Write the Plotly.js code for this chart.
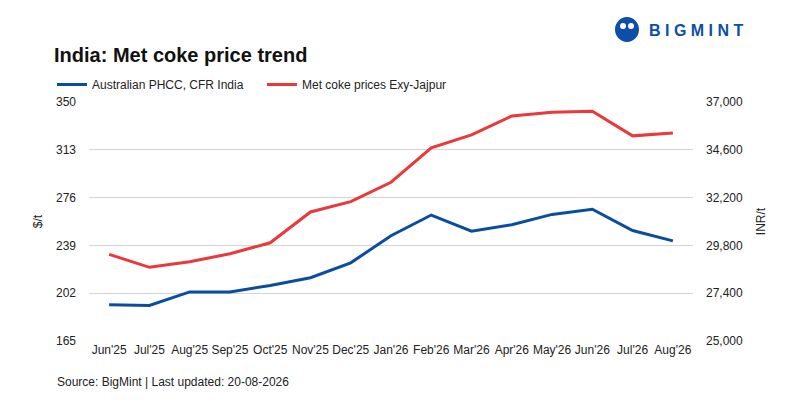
<!DOCTYPE html>
<html>
<head>
<meta charset="utf-8">
<script src="https://cdn.plot.ly/plotly-3.0.1.min.js"></script>
<style>
  html, body { margin: 0; padding: 0; background: #fff; }
  #chart { width: 800px; height: 400px; }
</style>
</head>
<body>
<div id="chart"></div>
<script>
// months on the x axis
const months = ["Jun'25", "Jul'25", "Aug'25", "Sep'25", "Oct'25", "Nov'25", "Dec'25",
  "Jan'26", "Feb'26", "Mar'26", "Apr'26", "May'26", "Jun'26", "Jul'26", "Aug'26"];

// Australian PHCC, CFR India ($/t, left axis)
const phcc_usd = [193, 192.5, 203, 203, 208, 214, 225.5, 246.5, 262.5, 250, 255, 263, 267, 250.5, 242.5];

// Met coke prices Exy-Jajpur (INR/t, right axis)
const jajpur_inr = [29350, 28700, 28980, 29380, 29930, 31480, 32000, 32970, 34700, 35350, 36300, 36490, 36540, 35300, 35440];

const leftTicks = [165, 202, 239, 276, 313, 350];
const rightTicks = [25000, 27400, 29800, 32200, 34600, 37000];

const FONT = "Liberation Sans Narrow, Liberation Sans, Arial, sans-serif";
const BLUE = "#0a4ca0";
const RED = "#e9393b";

// plot area in pixels, used to place the logo / source note
const PL = 89, PW = 604, PB = 341, PH = 239;
const px = (x) => (x - PL) / PW;
const py = (y) => (PB - y) / PH;

var trace1 = {
  x: months,
  y: phcc_usd,
  type: "scatter",
  mode: "lines",
  name: "Australian PHCC, CFR India",
  line: { color: BLUE, width: 3 },
  yaxis: "y",
};

var trace2 = {
  x: months,
  y: jajpur_inr,
  type: "scatter",
  mode: "lines",
  name: "Met coke prices Exy-Jajpur",
  line: { color: RED, width: 3 },
  yaxis: "y2",
};

var layout = {
  width: 800,
  height: 400,
  margin: { l: 89, r: 107, t: 102, b: 59 },
  paper_bgcolor: "#fff",
  plot_bgcolor: "#fff",
  font: { family: FONT, size: 12, color: "#222" },
  showlegend: true,
  title: {
    text: "India: Met coke price trend",
    font: { family: FONT, size: 20, color: "#111", weight: "bold" },
    xref: "container", yref: "container",
    x: 54 / 800, xanchor: "left",
    y: 1 - 55 / 400, yanchor: "middle",
  },
  legend: {
    orientation: "h",
    xref: "container", yref: "container",
    x: 52 / 800, xanchor: "left",
    y: 1 - 70 / 400, yanchor: "top",
    bgcolor: "rgba(0,0,0,0)",
    font: { family: FONT, size: 12, color: "#222" },
    itemwidth: 30,
    entrywidth: 165,
    entrywidthmode: "pixels",
    tracegroupgap: 0,
  },
  xaxis: {
    type: "category",
    range: [-0.5, 14.5],
    showgrid: false,
    zeroline: false,
    showline: false,
    ticks: "",
    tickangle: 0,
    tickfont: { family: FONT, size: 12, color: "#222" },
  },
  yaxis: {
    range: [165, 350],
    tickvals: leftTicks,
    gridcolor: "#d6d6d6",
    gridwidth: 1,
    zeroline: false,
    showline: false,
    ticks: "",
    ticklabelstandoff: 12,
    tickfont: { family: FONT, size: 12, color: "#222" },
    title: { text: "$/t", standoff: 10, font: { family: FONT, size: 12, color: "#222" } },
  },
  yaxis2: {
    overlaying: "y",
    side: "right",
    range: [25000, 37000],
    tickvals: rightTicks,
    tickformat: ",",
    showgrid: false,
    zeroline: false,
    showline: false,
    ticks: "",
    ticklabelstandoff: 12,
    tickfont: { family: FONT, size: 12, color: "#222" },
    title: { text: "INR/t", standoff: 14, font: { family: FONT, size: 12, color: "#222" } },
  },
  annotations: [
    {
      text: "Source: BigMint | Last updated: 20-08-2026",
      xref: "paper", yref: "paper",
      x: px(55), y: py(382),
      xanchor: "left", yanchor: "middle",
      showarrow: false,
      font: { family: FONT, size: 12, color: "#222" },
    },
    {
      text: "<b>B I G M I N T</b>",
      xref: "paper", yref: "paper",
      x: px(647), y: py(30),
      xanchor: "left", yanchor: "middle",
      showarrow: false,
      font: { family: "Liberation Sans, Arial, sans-serif", size: 16, color: "#0c4ea8" },
    },
  ],
  shapes: [
    // logo mark
    { type: "circle", xref: "paper", yref: "paper",
      x0: px(615), x1: px(639), y0: py(42), y1: py(17),
      fillcolor: "#0c4ea8", line: { width: 0 } },
    { type: "circle", xref: "paper", yref: "paper",
      x0: px(620), x1: px(626), y0: py(29), y1: py(23),
      fillcolor: "#fff", line: { width: 0 } },
    { type: "circle", xref: "paper", yref: "paper",
      x0: px(628), x1: px(634), y0: py(29), y1: py(23),
      fillcolor: "#fff", line: { width: 0 } },
  ],
};

Plotly.newPlot("chart", [trace1, trace2], layout, { displayModeBar: false, staticPlot: true });
</script>
</body>
</html>
